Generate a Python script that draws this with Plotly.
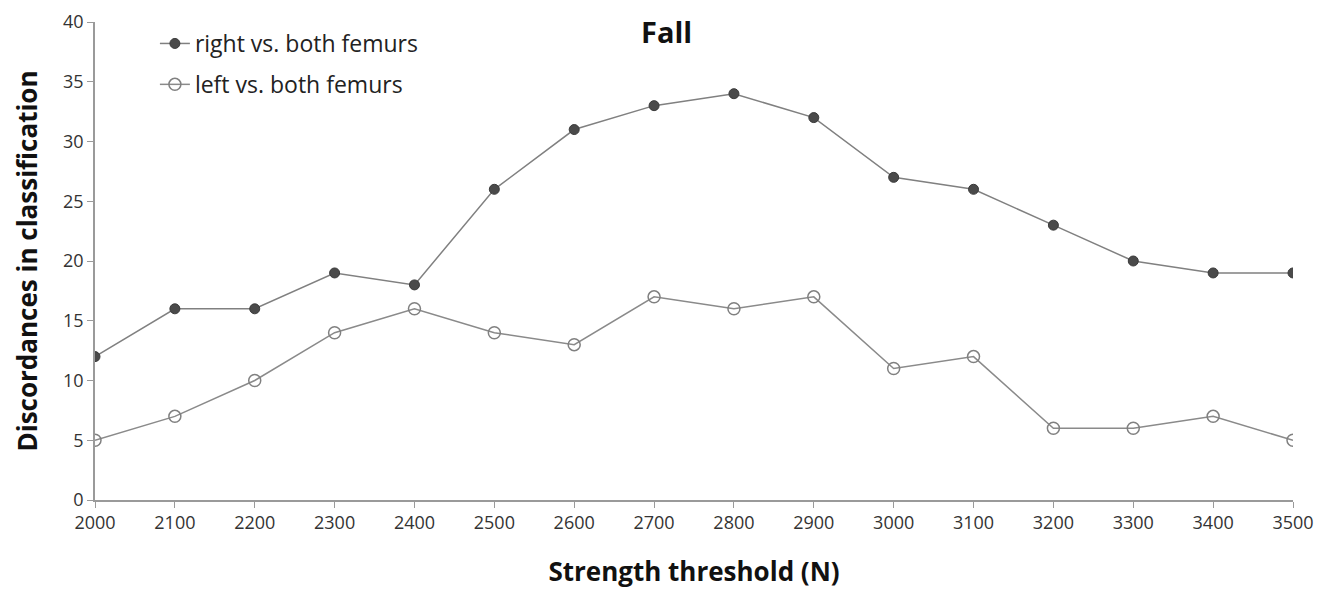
import plotly.graph_objects as go

thresholds = [2000, 2100, 2200, 2300, 2400, 2500, 2600, 2700, 2800, 2900, 3000, 3100, 3200, 3300, 3400, 3500]
right_vs_both = [12, 16, 16, 19, 18, 26, 31, 33, 34, 32, 27, 26, 23, 20, 19, 19]
left_vs_both = [5, 7, 10, 14, 16, 14, 13, 17, 16, 17, 11, 12, 6, 6, 7, 5]

FONT = "Open Sans, sans-serif"

fig = go.Figure()
fig.add_trace(go.Scatter(
    x=thresholds, y=right_vs_both, mode="lines+markers",
    name="right vs. both femurs", legendgroup="a",
    line=dict(color="#808080", width=1.5),
    marker=dict(symbol="circle", size=10, color="#4a4a4a", line=dict(color="#3a3a3a", width=1)),
))
fig.add_trace(go.Scatter(
    x=thresholds, y=left_vs_both, mode="lines+markers",
    name="left vs. both femurs", legendgroup="b",
    line=dict(color="#8a8a8a", width=1.5),
    marker=dict(symbol="circle-open", size=12, color="#808080", line=dict(width=1.5)),
))

fig.update_layout(
    width=1322, height=581,
    margin=dict(l=87, r=37, t=14, b=89),
    paper_bgcolor="white", plot_bgcolor="white",
    font=dict(family=FONT, color="#222"),
    legend=dict(x=0.05, y=1.0, xanchor="left", yanchor="top",
                font=dict(size=23, color="#222", family=FONT),
                tracegroupgap=8, bgcolor="rgba(0,0,0,0)", itemwidth=30),
    annotations=[dict(text="<b>Fall</b>", x=0.477, y=0.98, xref="paper", yref="paper",
                      xanchor="center", yanchor="middle", showarrow=False,
                      font=dict(size=29, color="#111", family=FONT))],
)
fig.update_xaxes(range=[2000, 3500], tickvals=thresholds, showgrid=False, zeroline=False,
                 showline=True, linecolor="#9a9a9a", linewidth=1.5, automargin=False,
                 ticks="outside", ticklen=6, tickcolor="#9a9a9a", ticklabeloverflow="allow",
                 tickfont=dict(size=18, color="#333"),
                 title=dict(text="<b>Strength threshold (N)</b>", font=dict(size=26, color="#111"), standoff=30))
fig.update_yaxes(range=[0, 40], dtick=5, showgrid=False, zeroline=False,
                 showline=True, linecolor="#9a9a9a", linewidth=1.5, automargin=False,
                 ticks="outside", ticklen=6, tickcolor="#9a9a9a", ticklabeloverflow="allow",
                 tickfont=dict(size=18, color="#333"),
                 title=dict(text="<b>Discordances in classification</b>", font=dict(size=26, color="#111"), standoff=18))

fig.write_html("out.html")
